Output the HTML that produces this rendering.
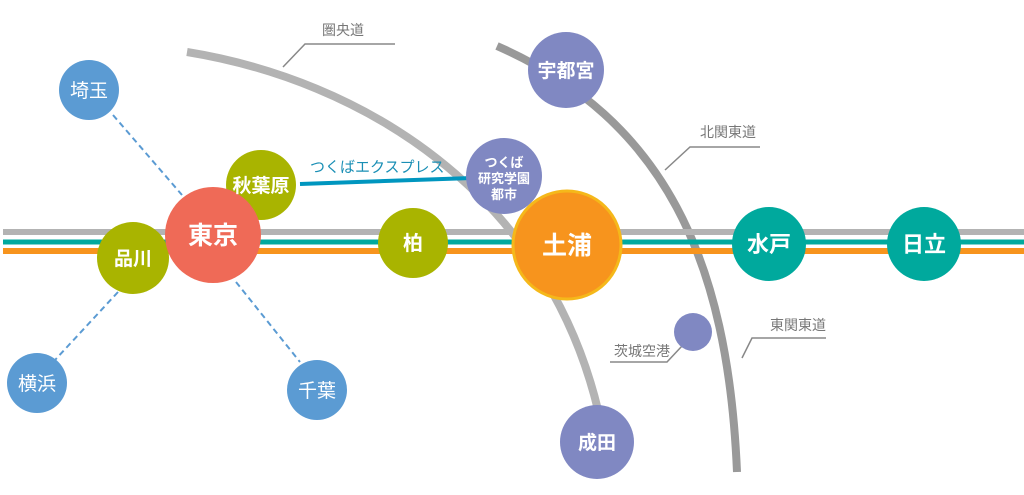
<!DOCTYPE html>
<html><head><meta charset="utf-8"><style>
body{margin:0;background:#fff;width:1024px;height:490px;overflow:hidden}
text{font-family:"Liberation Sans","Noto Sans CJK JP",sans-serif}
</style></head><body>
<svg width="1024" height="490" viewBox="0 0 1024 490">
<g fill="none">
<path d="M187,52 C360,80 545,190 598,410" stroke="#b3b3b3" stroke-width="8"/>
<path d="M497,46 C665,120 728,260 737,472" stroke="#999" stroke-width="8"/>
<line x1="3" y1="232" x2="1024" y2="232" stroke="#b3b3b3" stroke-width="6"/>
<line x1="3" y1="242" x2="1024" y2="242" stroke="#00a99d" stroke-width="5"/>
<line x1="3" y1="251" x2="1024" y2="251" stroke="#f7941d" stroke-width="6"/>
<line x1="113" y1="115" x2="182" y2="195" stroke="#5b9bd3" stroke-width="2" stroke-dasharray="6,4"/>
<line x1="236" y1="282" x2="300" y2="362" stroke="#5b9bd3" stroke-width="2" stroke-dasharray="6,4"/>
<line x1="118" y1="292" x2="55" y2="360" stroke="#5b9bd3" stroke-width="2" stroke-dasharray="6,4"/>
<line x1="300" y1="184" x2="472" y2="178" stroke="#0096bf" stroke-width="4"/>
<g stroke="#888" stroke-width="1.5">
<polyline points="283,67 305,44 395,44"/>
<polyline points="665,170 690,147 760,147"/>
<polyline points="742,358 752,338 826,338"/>
<polyline points="682,346 667,362 610,362"/>
</g>
</g>
<g>
<circle cx="89" cy="90" r="30" fill="#5b9bd3"/>
<circle cx="37" cy="383" r="30" fill="#5b9bd3"/>
<circle cx="317" cy="390" r="30" fill="#5b9bd3"/>
<circle cx="133" cy="258" r="36" fill="#a9b400"/>
<circle cx="261" cy="185" r="35" fill="#a9b400"/>
<circle cx="213" cy="235" r="48" fill="#ef6a57"/>
<circle cx="413" cy="243" r="35" fill="#a9b400"/>
<circle cx="504" cy="176" r="38" fill="#8088c2"/>
<circle cx="567" cy="245" r="54" fill="#f7941d" stroke="#f5b81a" stroke-width="3"/>
<circle cx="769" cy="244" r="37" fill="#00a99d"/>
<circle cx="924" cy="244" r="37" fill="#00a99d"/>
<circle cx="566" cy="70" r="38" fill="#8088c2"/>
<circle cx="597" cy="442" r="37" fill="#8088c2"/>
<circle cx="693" cy="332" r="19" fill="#8088c2"/>
</g>
<g fill="#fff" text-anchor="middle">
<text x="89" y="97" font-size="19">埼玉</text>
<text x="37" y="390" font-size="19">横浜</text>
<text x="317" y="397" font-size="19">千葉</text>
<text x="133" y="265" font-size="19" font-weight="bold">品川</text>
<text x="261" y="192" font-size="19" font-weight="bold">秋葉原</text>
<text x="213" y="244" font-size="25" font-weight="bold">東京</text>
<text x="413" y="250" font-size="20" font-weight="bold">柏</text>
<text x="504" y="167" font-size="13" font-weight="bold">つくば</text>
<text x="504" y="183" font-size="13" font-weight="bold">研究学園</text>
<text x="504" y="199" font-size="13" font-weight="bold">都市</text>
<text x="567" y="254" font-size="25" font-weight="bold">土浦</text>
<text x="769" y="252" font-size="22" font-weight="bold">水戸</text>
<text x="924" y="252" font-size="22" font-weight="bold">日立</text>
<text x="566" y="77" font-size="19" font-weight="bold">宇都宮</text>
<text x="597" y="449" font-size="19" font-weight="bold">成田</text>
</g>
<g fill="#777" font-size="14">
<text x="322" y="35">圏央道</text>
<text x="700" y="137">北関東道</text>
<text x="770" y="330">東関東道</text>
<text x="614" y="356">茨城空港</text>
</g>
<text x="310" y="172" font-size="15" fill="#1a8fb5">つくばエクスプレス</text>
</svg>
</body></html>
